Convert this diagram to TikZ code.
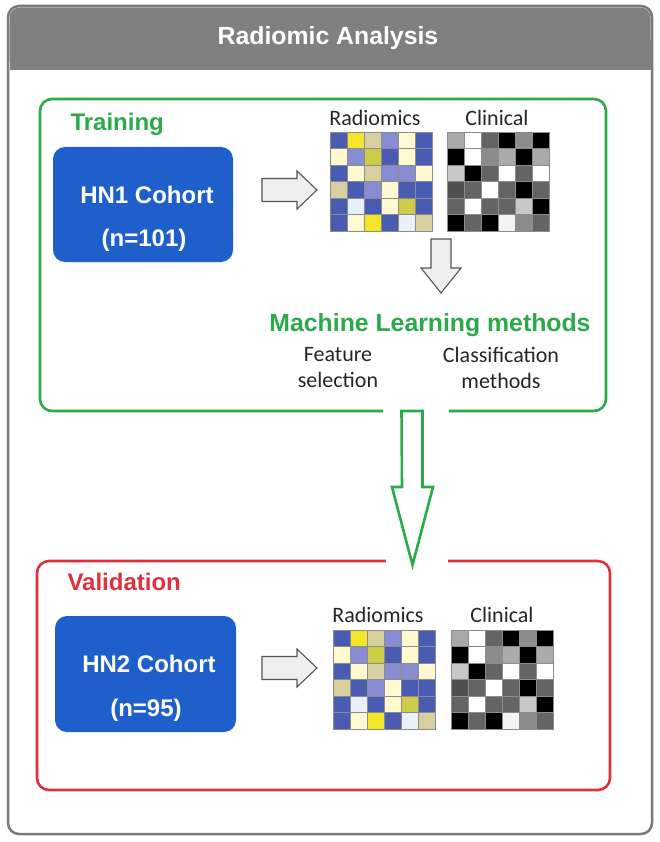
\documentclass[tikz,border=0pt]{standalone}
\usepackage{fontspec}
\setmainfont{Carlito}
\newfontfamily\arialf{Liberation Sans}
\newfontfamily\calf{Carlito}
\definecolor{hdr}{HTML}{808080}
\definecolor{frm}{HTML}{7A7A7A}
\definecolor{grn}{HTML}{2AAA48}
\definecolor{rd}{HTML}{E0303E}
\definecolor{cob}{HTML}{1F5FCC}
\definecolor{arf}{HTML}{EEEEEE}
\definecolor{ard}{HTML}{555555}
% radiomics colours
\definecolor{cB}{RGB}{74,92,178}
\definecolor{cY}{RGB}{243,230,40}
\definecolor{cT}{RGB}{216,207,160}
\definecolor{cL}{RGB}{136,140,208}
\definecolor{cC}{RGB}{255,249,210}
\definecolor{cO}{RGB}{204,204,72}
\definecolor{cW}{RGB}{232,240,250}
% clinical greys
\definecolor{gK}{RGB}{0,0,0}
\definecolor{gW}{RGB}{255,255,255}
\definecolor{gD}{RGB}{100,100,100}
\definecolor{gM}{RGB}{140,140,140}
\definecolor{gA}{RGB}{170,170,170}
\definecolor{gL}{RGB}{200,200,200}
\definecolor{gN}{RGB}{80,80,80}
\definecolor{gF}{RGB}{244,244,244}
\newcommand\radrows{{cB,cY,cT,cL,cC,cB},{cC,cL,cO,cB,cC,cB},{cB,cC,cT,cL,cL,cC},{cT,cB,cL,cC,cB,cB},{cB,cW,cB,cC,cO,cB},{cB,cC,cY,cB,cW,cT}}
\newcommand\clirows{{gA,gW,gD,gK,gM,gK},{gK,gW,gM,gA,gK,gA},{gL,gK,gD,gW,gD,gW},{gN,gD,gW,gD,gK,gD},{gD,gW,gD,gD,gL,gK},{gK,gD,gK,gF,gM,gD}}
% #1 = top-left coordinate name, #2 = rows
\newcommand\drawgrid[2]{%
  \begin{scope}[shift={(#1)}]
  \foreach \rowlist [count=\r] in #2 {
    \foreach \cc [count=\k] in \rowlist {
      \fill[\cc] ({(\k-1)*17},{(\r-1)*16.5}) rectangle ++(17,16.5);
    }
  }
  \foreach \i in {1,...,5} {
    \draw[gridline] ({\i*17},0) -- ({\i*17},99);
    \draw[gridline] (0,{\i*16.5}) -- (102,{\i*16.5});
  }
  \draw[gridline] (0,0) rectangle (102,99);
  \end{scope}}
\tikzset{
  gridline/.style={draw=black!45,line width=0.6pt},
  cohort/.style={rounded corners=12pt,fill=cob,draw=none},
  cohorttext/.style={text=white,font=\arialf\bfseries\fontsize{24}{28}\selectfont,align=center},
  lbl/.style={font=\calf\fontsize{22}{26}\selectfont,text=black!85},
  phase/.style={font=\arialf\bfseries\fontsize{24}{28}\selectfont},
  grayarrow/.style={fill=arf,draw=ard,line width=1.1pt,line join=miter},
}
\begin{document}
\begin{tikzpicture}[x=1pt,y=-1pt]
\useasboundingbox (0,0) rectangle (660,842);
\fill[white] (0,0) rectangle (660,842);
% outer frame
\draw[frm,line width=2.5pt,fill=white,rounded corners=11pt] (8,6) rectangle (652,834);
\fill[hdr,rounded corners=10pt] (9.5,7.5) -- (650.5,7.5) -- (650.5,70) -- (9.5,70) -- cycle;
\fill[hdr] (9.5,40) rectangle (650.5,70);
\node[text=white,font=\arialf\bfseries\fontsize{24.8}{28}\selectfont] (title) at (328,38) {Radiomic Analysis};
% training box
\draw[grn,line width=2.6pt,rounded corners=12pt] (40,99) rectangle (606,411);
\node[phase,text=grn,anchor=west] (train) at (67,124) {Training};
\fill[cohort] (53,147) rectangle (233,262);
\node[cohorttext] (hn1a) at (147,195) {HN1 Cohort};
\node[cohorttext] (hn1b) at (144,240) {(n=101)};
\node[lbl] (rad1) at (375,118) {Radiomics};
\node[lbl] (cli1) at (497,118) {Clinical};
\coordinate (g1) at (330,132);
\coordinate (g2) at (447,132);
\drawgrid{g1}{\radrows}
\drawgrid{g2}{\clirows}
% right arrow 1
\coordinate (a1) at (262,190);
\draw[grayarrow] (a1) ++(0,-11.5) -- ++(35,0) -- ++(0,-7.5) -- ++(20,19) -- ++(-20,19) -- ++(0,-7.5) -- ++(-35,0) -- cycle;
% down arrow
\coordinate (d1) at (441,239);
\draw[grayarrow] (d1) ++(-10,0) -- ++(20,0) -- ++(0,29) -- ++(10,0) -- ++(-20,25) -- ++(-20,-25) -- ++(10,0) -- cycle;
\node[phase,text=grn,font=\arialf\bfseries\fontsize{24.8}{28}\selectfont] (ml) at (430,325) {Machine Learning methods};
\node[lbl,align=center] (fs) at (338,368) {Feature\\selection};
\node[lbl,align=center] (cm) at (501,368) {Classification\\methods};
% validation box
\draw[rd,line width=2.6pt,rounded corners=12pt] (37,561) rectangle (610,790);
\node[phase,text=rd,anchor=west] (val) at (64,582) {Validation};
\fill[cohort] (55,616) rectangle (236,732);
\node[cohorttext] (hn2a) at (149,664) {HN2 Cohort};
\node[cohorttext] (hn2b) at (146,710) {(n=95)};
\node[lbl] (rad2) at (378,615) {Radiomics};
\node[lbl] (cli2) at (502,615) {Clinical};
\coordinate (g3) at (333,630);
\coordinate (g4) at (451,630);
\drawgrid{g3}{\radrows}
\drawgrid{g4}{\clirows}
\coordinate (a2) at (262,668);
\draw[grayarrow] (a2) ++(0,-11.5) -- ++(35,0) -- ++(0,-7.5) -- ++(20,19) -- ++(-20,19) -- ++(0,-7.5) -- ++(-35,0) -- cycle;
% big green arrow with white gaps
\fill[white] (383,407) rectangle (449,415);
\fill[white] (386,557) rectangle (448,565);
\coordinate (bt) at (412,411);
\draw[grn,line width=2.6pt,fill=white,line join=miter] (bt) ++(-10.5,0) -- ++(21,0) -- ++(0,76) -- ++(10.5,0) -- ++(-20.5,78) -- ++(-20.5,-78) -- ++(10,0) -- cycle;
\end{tikzpicture}
\end{document}
